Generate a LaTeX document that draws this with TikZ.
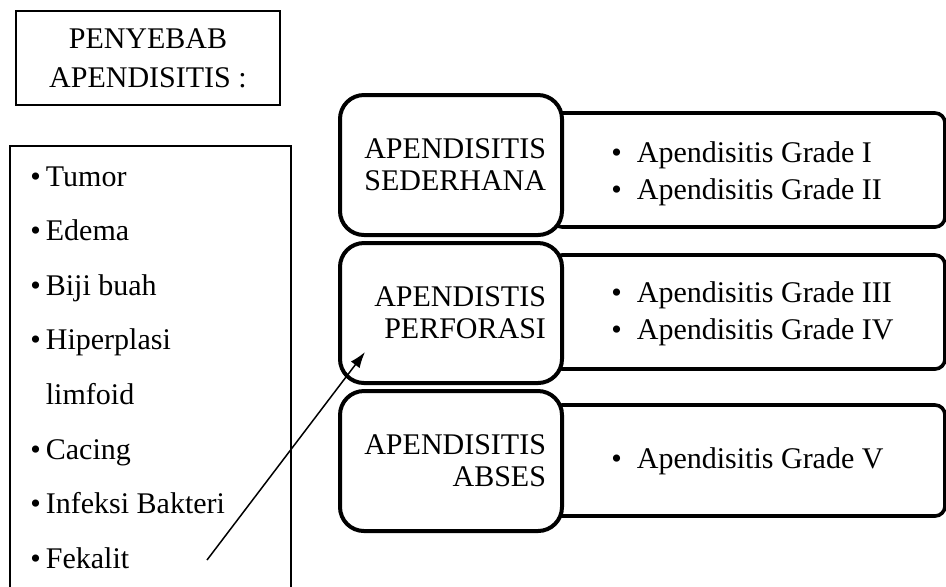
\documentclass[tikz,border=0pt]{standalone}
\usepackage{fontspec}
\setmainfont{Liberation Serif}
\usetikzlibrary{arrows.meta,calc}
\begin{document}
\begin{tikzpicture}[x=0.5pt,y=-0.5pt,
  every node/.style={font=\fontsize{15}{16}\selectfont},
  thinbox/.style={draw,line width=0.8pt,inner sep=0pt},
  typebox/.style={draw,line width=2pt,rounded corners=12pt,fill=white,
    minimum width=111pt,minimum height=70pt,inner sep=0pt,text width=95pt,align=right},
  gradebox/.style={draw,line width=1.8pt,rounded corners=5pt,minimum width=196.5pt,inner sep=0pt},
  gradetext/.style={anchor=west,align=left,inner sep=0pt,font=\fontsize{15}{18.5}\selectfont},
  pointer/.style={line width=0.75pt,-{Latex[length=8pt,width=5.5pt]}}]
\useasboundingbox (0,0) rectangle (946,586);
\clip (0,0) rectangle (946,586);
% title
\node[thinbox,minimum width=132pt,minimum height=47pt,align=center,
  font=\fontsize{15}{19.5}\selectfont] (title) at (148,58) {PENYEBAB\\APENDISITIS :};
% causes list
\node[thinbox,minimum width=140.5pt,minimum height=222pt,anchor=north west] (causes) at (9,145) {};
\node[anchor=north west,inner sep=0pt,align=left,font=\fontsize{15}{27.3}\selectfont] (items) at (30,166)
  {•\,Tumor\\•\,Edema\\•\,Biji buah\\•\,Hiperplasi\\\hphantom{•\,}limfoid\\•\,Cacing\\•\,Infeksi Bakteri\\•\,Fekalit};
% grade boxes (behind)
\node[gradebox,minimum height=57pt] (g1) at (748.5,170) {};
\node[gradebox,minimum height=57pt] (g2) at (748.5,312) {};
\node[gradebox,minimum height=55.5pt] (g3) at (748.5,460.5) {};
% type boxes
\node[typebox] (t1) at (451,165) {APENDISITIS\\SEDERHANA};
\node[typebox] (t2) at (451,313) {APENDISTIS\\PERFORASI};
\node[typebox] (t3) at (451,461) {APENDISITIS\\ABSES};
% grade texts
\node[gradetext] (g1text) at (611,173.5) {•\enspace Apendisitis Grade I\\•\enspace Apendisitis Grade II};
\node[gradetext] (g2text) at (611,313.5) {•\enspace Apendisitis Grade III\\•\enspace Apendisitis Grade IV};
\node[gradetext] (g3text) at (611,461) {•\enspace Apendisitis Grade V};
% arrow
\coordinate (fekalitend) at (207,560);
\draw[pointer] (fekalitend) -- ($(t2.south west)+(27,-33)$);
\end{tikzpicture}
\end{document}
